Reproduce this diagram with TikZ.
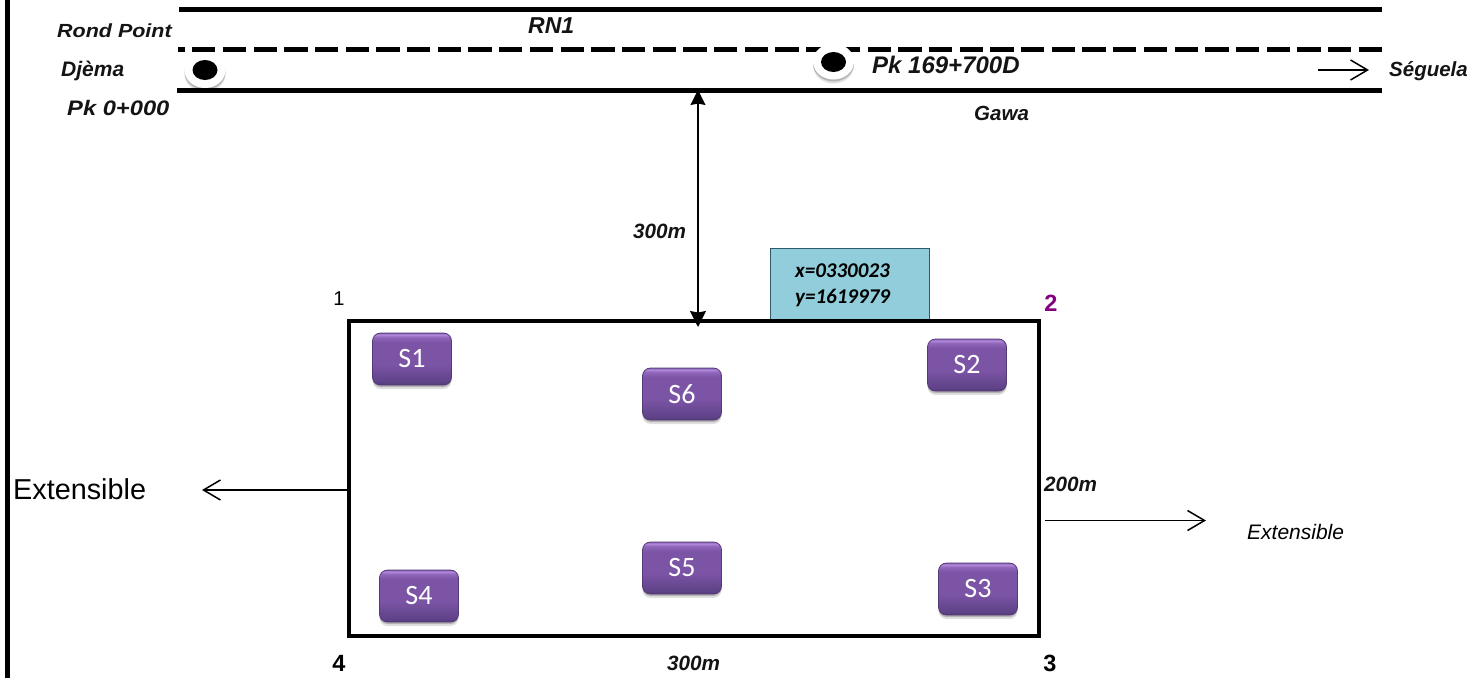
\documentclass[tikz,border=0pt]{standalone}
\usepackage{fontspec}
\usepackage{graphicx}
\setmainfont{Liberation Sans}
\newfontfamily\cali{Carlito}
\usetikzlibrary{arrows.meta,shadows,shapes.geometric}
\definecolor{bluebox}{HTML}{92CDDC}
\definecolor{blueedge}{HTML}{2F5A68}
\definecolor{mag}{HTML}{800080}
\definecolor{purpedge}{HTML}{553A78}
\definecolor{pa}{HTML}{5F4288}
\definecolor{pb}{HTML}{6C4A95}
\definecolor{pc}{HTML}{7C54A6}
\definecolor{pd}{HTML}{8F66BA}
\definecolor{pe}{HTML}{B48ADE}
\definecolor{pf}{HTML}{805CA8}
\pgfdeclareverticalshading{sboxshade}{100bp}{
  color(0bp)=(purpedge);
  color(25bp)=(purpedge);
  color(28bp)=(pa);
  color(36bp)=(pb);
  color(45bp)=(pc);
  color(66bp)=(pc);
  color(71bp)=(pd);
  color(73.5bp)=(pe);
  color(75bp)=(pf);
  color(100bp)=(pf)}
\tikzset{
  boldit/.style={font=\fontsize{#1}{#1}\selectfont\bfseries\itshape,inner sep=0pt,text=black!92,anchor=west},
  num/.style={font=\fontsize{23.5}{24}\selectfont\bfseries,inner sep=0pt},
  road/.style={line width=5pt},
  roaddash/.style={line width=5pt,dash pattern=on 23.3pt off 7.4pt},
  softshadow/.style={drop shadow={shadow xshift=0pt,shadow yshift=-4pt,opacity=0.12,fill=black},
    drop shadow={shadow xshift=0pt,shadow yshift=-2pt,opacity=0.2,fill=black}},
  sbox/.style={softshadow,draw=purpedge,line width=0.8pt,rounded corners=8pt,minimum width=79pt,minimum height=52pt,
    shade,shading=sboxshade,inner sep=0pt,outer sep=0pt,
    text=white,font=\cali\fontsize{28}{30}\selectfont},
  ring/.style={softshadow,ellipse,fill=white,draw=none,minimum width=41pt,minimum height=36pt,inner sep=0pt},
  hole/.style={ellipse,fill=black,minimum width=25pt,minimum height=20pt,inner sep=0pt},
  openarrow/.style={-{Straight Barb[length=17pt,width=20pt,line width=1.5pt]},line width=1.5pt},
  dimarrow/.style={{Stealth[length=15pt,width=15pt,inset=1.5pt]}-{Stealth[length=16pt,width=16pt,inset=1.5pt]},line width=1.6pt},
  frame/.style={line width=3.8pt,line join=miter,outer sep=0pt},
}
\begin{document}
\begin{tikzpicture}[x=1pt,y=-1pt]
\useasboundingbox (0,0) rectangle (1473,678);
% page border on the left
\coordinate (bt) at (7,0);
\coordinate (bb) at (7,678);
\draw[line width=5pt] (bt) -- (bb);
% road
\coordinate (ra) at (179,9);   \coordinate (rb) at (1382,9);
\coordinate (rc) at (178,49.5);  \coordinate (rd) at (1382,49.5);
\coordinate (re) at (177,90);  \coordinate (rf) at (1382,90);
\draw[road] (ra) -- (rb);
\draw[roaddash] (rd) -- (rc);
\draw[road] (re) -- (rf);
% junction symbols
\node[ring] (pA) at (205,70) {};
\node[hole] (hA) at (205,70) {};
\node[ring] (pB) at (833.5,61.5) {};
\node[hole] (hB) at (833.5,62) {};
% road labels
\node[boldit=19] (t1) at (57,31) {\scalebox{1.13}[1]{Rond Point}};
\node[boldit=21] (t2) at (61,71) {Djèma};
\node[boldit=21] (t3) at (67,108) {\scalebox{1.13}[1]{Pk 0+000}};
\node[boldit=23] (t4) at (528,25.5) {RN1};
\node[boldit=24] (t5) at (872,65) {Pk 169+700D};
\node[boldit=20.5] (t6) at (974,113) {Gawa};
\node[boldit=20.5] (t7) at (1389,71) {Séguela};
\coordinate (sa) at (1318,70); \coordinate (sb) at (1369,70);
\draw[openarrow] (sa) -- (sb);
% coordinates box
\node[draw=blueedge,line width=0.8pt,fill=bluebox,minimum width=159pt,minimum height=73pt,inner sep=0pt,outer sep=0pt,anchor=south west] (xy) at (770,321) {};
\node[font=\cali\fontsize{21}{26}\selectfont\bfseries\itshape,align=left,inner sep=0pt,anchor=west] (xyt) at (795,285) {x=0330023\\y=1619979};
% site
\node[draw,frame,minimum width=690pt,minimum height=315pt,inner sep=0pt,anchor=north west] (site) at (349,321) {};
\coordinate (roadfoot) at (698,90);
\coordinate (sitetop) at (698,327);
\draw[dimarrow] (roadfoot) -- (sitetop);
% dims
\node[boldit=20.7] (d1) at (633,231) {300m};
\node[boldit=20.7] (d2) at (1044,484) {200m};
\node[boldit=20.7] (d3) at (667,663) {300m};
% corners
\node[font=\fontsize{20}{20}\selectfont,inner sep=0pt] (c1) at (339,299) {1};
\node[num,text=mag] (c2) at (1051,303) {2};
\node[num] (c3) at (1050,663) {3};
\node[num] (c4) at (339,663) {4};
% stations
\node[sbox] (s1) at (412,359) {S1};
\node[sbox] (s2) at (967,365) {S2};
\node[sbox] (s3) at (978,589) {S3};
\node[sbox] (s4) at (419,596) {S4};
\node[sbox] (s5) at (682,568) {S5};
\node[sbox] (s6) at (682,394) {S6};
% extensible
\node[font=\fontsize{28.8}{30}\selectfont,inner sep=0pt,anchor=west] (e1) at (13,489) {Extensible};
\coordinate (lb) at (202,490);
\draw[openarrow] (site.west |- lb) -- (lb);
\coordinate (ra2) at (1045,520.5); \coordinate (rb2) at (1206,520.5);
\draw[openarrow] (ra2) -- (rb2);
\node[font=\fontsize{21}{22}\selectfont\itshape,inner sep=0pt,anchor=west] (e2) at (1247,532) {Extensible};
\end{tikzpicture}
\end{document}
